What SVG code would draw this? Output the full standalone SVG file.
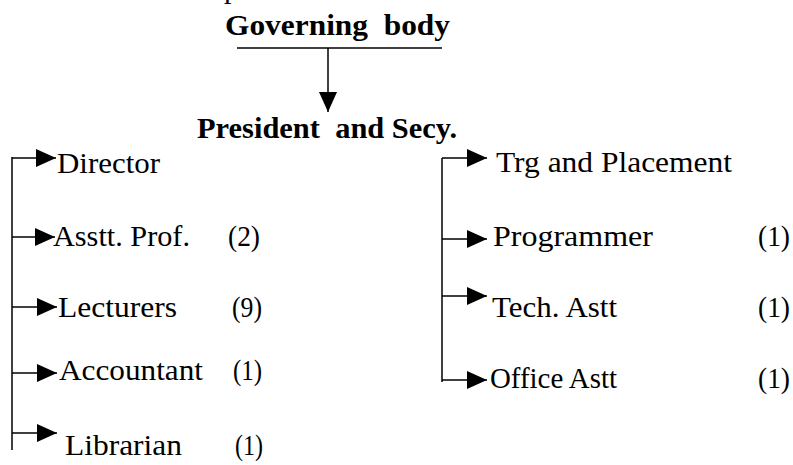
<svg xmlns="http://www.w3.org/2000/svg" width="793" height="465" viewBox="0 0 793 465">
<style>
  text { font-family: "Liberation Serif", "DejaVu Serif", "Times New Roman", serif; font-size: 30px; fill: #000; white-space: pre; }
  .b { font-weight: bold; font-size: 29px; }
  .ln { stroke: #000; stroke-width: 1.5; fill: none; }
  .ar { marker-end: url(#ah); }
</style>
<defs>
  <marker id="ah" markerUnits="userSpaceOnUse" markerWidth="20" markerHeight="18" viewBox="0 0 20 18" refX="20" refY="9" orient="auto">
    <path d="M0,0 L20,9 L0,18 Z" fill="#000"/>
  </marker>
</defs>
<rect width="793" height="465" fill="#fff"/>
<text x="224" y="-2">p</text>
<g id="governing-body">
  <text class="b" x="225" y="35" textLength="225" lengthAdjust="spacingAndGlyphs">Governing  body</text>
</g>
<g id="president">
  <text class="b" x="197" y="138" textLength="260" lengthAdjust="spacingAndGlyphs">President  and Secy.</text>
</g>
<g id="director"><text x="57" y="173" textLength="103" lengthAdjust="spacingAndGlyphs">Director</text></g>
<g id="asstt-prof"><text x="53" y="246" textLength="137" lengthAdjust="spacingAndGlyphs">Asstt. Prof.</text><text x="228" y="246" textLength="32" lengthAdjust="spacingAndGlyphs">(2)</text></g>
<g id="lecturers"><text x="58" y="317" textLength="119" lengthAdjust="spacingAndGlyphs">Lecturers</text><text x="232" y="317" textLength="30" lengthAdjust="spacingAndGlyphs">(9)</text></g>
<g id="accountant"><text x="59" y="380" textLength="144" lengthAdjust="spacingAndGlyphs">Accountant</text><text x="233" y="380" textLength="29" lengthAdjust="spacingAndGlyphs">(1)</text></g>
<g id="librarian"><text x="65" y="455" textLength="117" lengthAdjust="spacingAndGlyphs">Librarian</text><text x="235" y="455" textLength="28" lengthAdjust="spacingAndGlyphs">(1)</text></g>
<g id="trg-placement"><text x="496" y="172" textLength="236" lengthAdjust="spacingAndGlyphs">Trg and Placement</text></g>
<g id="programmer"><text x="493" y="246" textLength="160" lengthAdjust="spacingAndGlyphs">Programmer</text><text x="758" y="246" textLength="32" lengthAdjust="spacingAndGlyphs">(1)</text></g>
<g id="tech-astt"><text x="492" y="317" textLength="125" lengthAdjust="spacingAndGlyphs">Tech. Astt</text><text x="758" y="317" textLength="32" lengthAdjust="spacingAndGlyphs">(1)</text></g>
<g id="office-astt"><text x="490" y="388" textLength="127" lengthAdjust="spacingAndGlyphs">Office Astt</text><text x="758" y="388" textLength="32" lengthAdjust="spacingAndGlyphs">(1)</text></g>
<g id="connectors">
  <path class="ln" d="M237,48 H442"/>
  <path class="ln ar" d="M328,48 V112"/>
  <path class="ln" d="M12,157 V450"/>
  <path class="ln ar" d="M12,158 H56"/>
  <path class="ln ar" d="M12,237 H55"/>
  <path class="ln ar" d="M12,307 H57"/>
  <path class="ln ar" d="M12,373 H57"/>
  <path class="ln ar" d="M12,433 H57"/>
  <path class="ln" d="M442,158 V382"/>
  <path class="ln ar" d="M442,158 H487"/>
  <path class="ln ar" d="M442,239 H487"/>
  <path class="ln ar" d="M442,296 H487"/>
  <path class="ln ar" d="M442,380 H487"/>
</g>
</svg>
